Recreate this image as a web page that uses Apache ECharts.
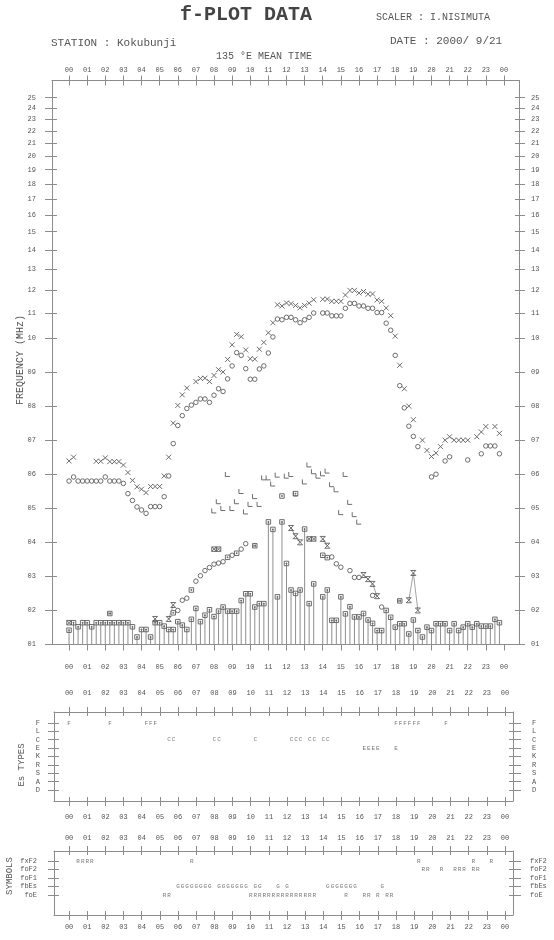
<!DOCTYPE html>
<html>
<head>
<meta charset="utf-8">
<script src="https://cdn.jsdelivr.net/npm/echarts@6/dist/echarts.min.js"></script>
<style>html,body{margin:0;padding:0;background:#fff}#c{width:554px;height:940px}</style>
</head>
<body>
<div id="c"></div>
<script>
// ---------------- DATA ----------------
const hourTicks = [0,1,2,3,4,5,6,7,8,9,10,11,12,13,14,15,16,17,18,19,20,21,22,23,24];
const hourLabels = ['00','01','02','03','04','05','06','07','08','09','10','11','12','13','14','15','16','17','18','19','20','21','22','23','00'];
const freqTicksLow = [1,2,3,4,5,6,7,8,9,10];
const freqLabelsLow = ['01','02','03','04','05','06','07','08','09','10'];
const freqTicksHigh = [11,12,13,14,15,16,17,18,19,20,21,22,23,24,25];
const freqLabelsHigh = ['11','12','13','14','15','16','17','18','19','20','21','22','23','24','25'];

// quarter-hourly values (index i -> time i/4 h), MHz
const fxF2 = [6.39,6.50,null,null,null,null,6.38,6.38,6.48,6.37,
  6.37,6.37,6.27,6.05,5.82,5.63,5.56,5.46,5.64,5.64,
  5.64,5.95,6.50,7.50,8.02,8.33,8.53,null,8.72,8.81,
  8.82,8.72,8.90,9.07,9.00,9.37,9.80,10.14,10.05,9.65,
  9.39,9.38,9.67,9.87,10.2,10.6,11.35,11.30,11.43,11.40,
  11.32,11.22,11.32,11.42,11.57,null,11.59,11.60,11.50,11.50,
  11.50,11.78,11.99,11.99,11.87,11.94,11.82,11.83,11.56,11.50,
  11.21,10.89,10.07,9.20,8.51,8.00,7.60,null,7.00,6.70,
  6.52,6.62,6.81,7.00,7.10,7.00,7.00,7.00,7.00,null,
  7.10,7.24,7.40,null,7.40,7.20];
const foF2 = [5.80,5.92,5.80,5.80,5.80,5.80,5.80,5.80,5.92,5.80,
  5.80,5.80,5.73,5.43,5.23,5.04,4.95,4.85,5.05,5.05,
  5.05,5.34,5.95,6.90,7.43,7.72,7.93,8.03,8.11,8.21,
  8.21,8.11,8.32,8.51,8.43,8.80,9.18,9.57,9.49,9.10,
  8.79,8.79,9.09,9.18,9.56,10.04,10.75,10.72,10.82,10.82,
  10.72,10.60,10.72,10.82,11.00,null,11.00,11.00,10.88,10.88,
  10.88,11.20,11.41,11.41,11.30,11.30,11.20,11.20,11.02,11.02,
  10.58,10.30,9.49,8.60,7.95,7.41,7.11,6.81,null,null,
  5.92,6.00,null,6.39,6.51,null,null,null,6.42,null,
  null,6.60,6.83,6.83,6.83,6.60];
const fmin = [1.42,1.64,1.52,1.64,1.64,1.52,1.64,1.64,1.64,1.64,
  1.64,1.64,1.64,1.64,1.52,1.22,1.44,1.44,1.22,1.64,
  1.64,1.54,1.44,1.44,1.67,1.57,1.44,1.74,2.06,1.67,
  1.86,2.02,1.82,1.98,2.10,1.98,1.98,1.98,2.29,2.49,
  2.49,2.10,2.20,2.20,4.60,4.38,2.40,4.60,3.38,2.60,
  2.50,2.60,4.39,2.20,2.78,null,2.40,2.60,1.71,1.71,
  2.40,1.90,2.11,1.81,1.81,1.91,1.72,1.62,1.41,1.41,
  2.00,1.80,1.51,1.61,1.61,1.31,1.72,1.41,1.22,1.51,
  1.41,1.61,1.61,1.61,1.41,1.61,1.41,1.51,1.61,1.51,
  1.61,1.54,1.54,1.54,1.74,1.64];
const foEs = [null,null,null,null,null,null,null,null,null,null,
  null,null,null,null,null,null,null,null,null,1.75,
  null,null,1.75,2.16,null,null,null,null,null,null,
  null,null,null,null,null,null,null,null,null,null,
  null,null,null,null,null,null,null,null,null,4.42,
  4.18,4.00,null,null,null,null,4.10,3.90,null,null,
  null,null,null,null,null,3.04,2.92,2.78,2.42,null,
  null,null,null,null,null,2.30,3.10,2.00,null,null,
  null,null,null,null,null,null,null,null,null,null,
  null,null,null,null,null,null];
const foF1Q = [32,33,34,35,36,37,38,39,40,41,42,43,44,45,46,48,49,50,52,53,54,55,56,57,58,59,60,61,62,63,64];
const foF1V = [4.93,5.2,5.0,6.0,5.0,5.2,5.5,4.9,5.12,5.35,5.12,5.9,5.9,5.72,5.98,5.95,6.0,5.43,5.78,6.28,6.08,5.95,6.02,6.1,5.7,5.55,4.88,6.0,5.18,4.82,4.6];
const foEQ = [24,25,26,28,29,30,31,32,33,34,36,38,39,58,59,60,62,63,64,67,69];
const foEV = [2.0,2.3,2.36,2.86,3.02,3.17,3.26,3.36,3.39,3.43,3.62,3.8,3.96,3.57,3.37,3.27,3.17,2.97,2.97,2.44,2.1];
const boxQ = [23,27,35,37,47,50,56,57];
const boxV = [1.93,2.6,3.56,3.68,5.36,5.43,3.62,3.55];
const xboxQ = [0,32,33,53,54];
const xboxV = [1.64,3.8,3.8,4.1,4.1];
const hboxQ = [9,41,73];
const hboxV = [1.91,3.9,2.28];

// Es types panel
const esRows = ['F','L','C','E','K','R','S','A','D'];
const esF = [0,9,17,18,19,72,73,74,75,76,77,83];
const esC = [22,23,32,33,41,49,50,51,53,54,56,57];
const esE = [65,66,67,68,72];
// Symbols panel
const symRows = ['fxF2','foF2','foF1','fbEs','foE'];
const symFxF2 = [2,3,4,5,27,77,89,93];
const symFoF2 = [78,79,82,85,86,87,89,90];
const symFbEs = [24,25,26,27,28,29,30,31,33,34,35,36,37,38,39,41,42,46,48,57,58,59,60,61,62,63,69];
const symFoE = [21,22,40,41,42,43,44,45,46,47,48,49,50,51,52,53,54,61,65,66,68,70,71];

// ---------------- STYLE ----------------
const FONT = '"Liberation Mono","DejaVu Sans Mono",monospace';
const C_TEXT = '#555';
const C_LINE = '#8c8c8c';
const C_SYM = '#5e5e5e';
const XMIN = -0.94, XMAX = 24.83;      // main plot
const XMIN2 = -0.83, XMAX2 = 24.44;    // lower panels

const P_X = 'path://M0,0L10,10M10,0L0,10';
const P_L = 'path://M0,0L0,10L10,10';
const P_BOX = 'path://M0,0L10,0L10,10L0,10Z M4,4L6,4L6,6L4,6Z';
const P_XBOX = 'path://M0,0L10,0L10,10L0,10Z M0,0L10,10 M10,0L0,10';
const P_HBOX = 'path://M0,0L10,0L10,10L0,10Z M3,2L3,8 M7,2L7,8 M3,5L7,5';
const P_GLASS = 'path://M0,0L10,0L0,10L10,10Z';

const hourFmt = v => hourLabels[hourTicks.indexOf(Math.round(v))];

function xAx(grid, pos, o) {
  return {
    type: 'value', gridIndex: grid, position: pos,
    min: o.min, max: o.max,
    axisLine: { show: !!o.line, onZero: false, lineStyle: { color: C_LINE, width: 1 } },
    axisTick: { show: true, inside: !!o.inside, length: o.len, customValues: hourTicks, lineStyle: { color: C_LINE, width: 1 } },
    axisLabel: { show: !!o.label, customValues: hourTicks, formatter: hourFmt, margin: o.margin || 8,
      fontSize: 7, fontFamily: FONT, color: C_TEXT },
    splitLine: { show: false }
  };
}
function yAx(grid, pos, o) {
  return {
    type: o.type || 'value', gridIndex: grid, position: pos,
    min: o.min, max: o.max, inverse: !!o.inverse, logBase: 10,
    axisLine: { show: !!o.line, onZero: false, lineStyle: { color: C_LINE, width: 1 } },
    axisTick: { show: true, inside: !!o.inside, length: o.len, customValues: o.ticks, lineStyle: { color: C_LINE, width: 1 } },
    axisLabel: { show: !!o.label, customValues: o.ticks, formatter: o.fmt, margin: o.margin || 8,
      fontSize: o.fs || 7, fontFamily: FONT, color: C_TEXT },
    splitLine: { show: false }
  };
}

const fmtHigh = v => freqLabelsHigh[freqTicksHigh.indexOf(Math.round(v))];
const fmtLow = v => freqLabelsLow[freqTicksLow.indexOf(Math.round(v))];
const esIdx = [0,1,2,3,4,5,6,7,8];
const symIdx = [0,1,2,3,4];
const fmtEs = v => esRows[Math.round(v)];
const fmtSym = v => symRows[Math.round(v)];

// ---------------- helpers to build series data ----------------
const arrPts = (arr, test) => arr.map((v, i) => (v != null && test(v)) ? [i / 4, v] : null).filter(Boolean);
const qPts = (Q, V) => Q.map((q, k) => [q / 4, V[k]]);
const letterPts = (Q, row, letter) => Q.map(q => ({ name: letter, value: [q / 4, row] }));

function scat(name, data, symbol, size, xi, yi) {
  return {
    name, type: 'scatter', xAxisIndex: xi, yAxisIndex: yi, data, symbol, symbolSize: size,
    clip: false, silent: true,
    itemStyle: { color: 'rgba(0,0,0,0)', borderColor: C_SYM, borderWidth: 0.9, opacity: 1 }
  };
}
function letters(name, data, xi, yi) {
  return {
    name, type: 'scatter', xAxisIndex: xi, yAxisIndex: yi, data, symbol: 'rect', symbolSize: 1,
    silent: true, itemStyle: { color: 'rgba(0,0,0,0)' },
    label: { show: true, position: 'inside', formatter: '{b}', fontSize: 6, fontFamily: FONT, color: C_TEXT }
  };
}

const ES_MIN = -1.31, ES_MAX = 9.31;
const SYM_MIN = -1.18, SYM_MAX = 6.35;

// ---------------- OPTION ----------------
const option = {
  animation: false,
  backgroundColor: '#fff',
  grid: [
    { left: 52, right: 35, top: 80.5, height: 257.5 },   // 0: 10-26.7 MHz (log)
    { left: 52, right: 35, top: 338, height: 306.5 },    // 1: 1-10 MHz
    { left: 54, right: 41, top: 712, height: 89 },       // 2: Es types
    { left: 54, right: 41, top: 851, height: 64 }        // 3: symbols
  ],
  xAxis: [
    xAx(0, 'top', { min: XMIN, max: XMAX, line: true, len: 5, label: true, margin: 7 }),
    xAx(0, 'top', { min: XMIN, max: XMAX, inside: true, len: 5 }),
    xAx(1, 'bottom', { min: XMIN, max: XMAX, line: true, len: 6, label: true, margin: 19 }),
    xAx(2, 'top', { min: XMIN2, max: XMAX2, line: true, len: 5, label: true, margin: 15 }),
    xAx(2, 'top', { min: XMIN2, max: XMAX2, inside: true, len: 4 }),
    xAx(2, 'bottom', { min: XMIN2, max: XMAX2, line: true, len: 5, label: true, margin: 13 }),
    xAx(2, 'bottom', { min: XMIN2, max: XMAX2, inside: true, len: 4 }),
    xAx(3, 'top', { min: XMIN2, max: XMAX2, line: true, len: 5, label: true, margin: 9 }),
    xAx(3, 'top', { min: XMIN2, max: XMAX2, inside: true, len: 4 }),
    xAx(3, 'bottom', { min: XMIN2, max: XMAX2, line: true, len: 5, label: true, margin: 9 }),
    xAx(3, 'bottom', { min: XMIN2, max: XMAX2, inside: true, len: 4 })
  ],
  yAxis: [
    yAx(0, 'left', { type: 'log', min: 10, max: 26.7, line: true, len: 7, label: true, margin: 16, ticks: freqTicksHigh, fmt: fmtHigh }),
    yAx(0, 'left', { type: 'log', min: 10, max: 26.7, inside: true, len: 5, ticks: freqTicksHigh }),
    yAx(0, 'right', { type: 'log', min: 10, max: 26.7, line: true, len: 6, label: true, margin: 12, ticks: freqTicksHigh, fmt: fmtHigh }),
    yAx(0, 'right', { type: 'log', min: 10, max: 26.7, inside: true, len: 4, ticks: freqTicksHigh }),
    yAx(1, 'left', { min: 1, max: 10, line: true, len: 7, label: true, margin: 16, ticks: freqTicksLow, fmt: fmtLow }),
    yAx(1, 'left', { min: 1, max: 10, inside: true, len: 5, ticks: freqTicksLow }),
    yAx(1, 'right', { min: 1, max: 10, line: true, len: 6, label: true, margin: 12, ticks: freqTicksLow, fmt: fmtLow }),
    yAx(1, 'right', { min: 1, max: 10, inside: true, len: 4, ticks: freqTicksLow }),
    yAx(2, 'left', { min: ES_MIN, max: ES_MAX, inverse: true, line: true, len: 6, label: true, margin: 14, ticks: esIdx, fmt: fmtEs }),
    yAx(2, 'left', { min: ES_MIN, max: ES_MAX, inverse: true, inside: true, len: 5, ticks: esIdx }),
    yAx(2, 'right', { min: ES_MIN, max: ES_MAX, inverse: true, line: true, len: 8, label: true, margin: 19, ticks: esIdx, fmt: fmtEs }),
    yAx(2, 'right', { min: ES_MIN, max: ES_MAX, inverse: true, inside: true, len: 4, ticks: esIdx }),
    yAx(3, 'left', { min: SYM_MIN, max: SYM_MAX, inverse: true, line: true, len: 6, label: true, margin: 17, ticks: symIdx, fmt: fmtSym }),
    yAx(3, 'left', { min: SYM_MIN, max: SYM_MAX, inverse: true, inside: true, len: 5, ticks: symIdx }),
    yAx(3, 'right', { min: SYM_MIN, max: SYM_MAX, inverse: true, line: true, len: 8, label: true, margin: 17, ticks: symIdx, fmt: fmtSym }),
    yAx(3, 'right', { min: SYM_MIN, max: SYM_MAX, inverse: true, inside: true, len: 4, ticks: symIdx })
  ],
  series: [
    // upper (log) part
    scat('fxF2 high', arrPts(fxF2, v => v > 10), P_X, 5, 0, 0),
    scat('foF2 high', arrPts(foF2, v => v > 10), 'circle', 4.5, 0, 0),
    // lower (linear) part
    {
      name: 'fmin line', type: 'bar', xAxisIndex: 2, yAxisIndex: 4, barWidth: 1, silent: true,
      data: arrPts(fmin, v => true), itemStyle: { color: '#8f8f8f' }
    },
    scat('fmin', arrPts(fmin, v => true), P_BOX, 4.5, 2, 4),
    scat('fxF2 low', arrPts(fxF2, v => v <= 10), P_X, 5, 2, 4),
    scat('foF2 low', arrPts(foF2, v => v <= 10), 'circle', 4.5, 2, 4),
    scat('foF1', qPts(foF1Q, foF1V), P_L, 4.5, 2, 4),
    scat('foE', qPts(foEQ, foEV), 'circle', 4.5, 2, 4),
    scat('box', qPts(boxQ, boxV), P_BOX, 4.5, 2, 4),
    scat('xbox', qPts(xboxQ, xboxV), P_XBOX, 4.5, 2, 4),
    scat('hbox', qPts(hboxQ, hboxV), P_HBOX, 4.5, 2, 4),
    {
      name: 'foEs', type: 'line', xAxisIndex: 2, yAxisIndex: 4, silent: true,
      data: foEs.map((v, i) => [i / 4, v]), connectNulls: false,
      symbol: P_GLASS, symbolSize: 5, showSymbol: true,
      itemStyle: { color: 'rgba(0,0,0,0)', borderColor: C_SYM, borderWidth: 0.9 },
      lineStyle: { color: C_LINE, width: 0.8 }
    },
    // Es types
    letters('Es F', letterPts(esF, 0, 'F'), 3, 8),
    letters('Es C', letterPts(esC, 2, 'C'), 3, 8),
    letters('Es E', letterPts(esE, 3, 'E'), 3, 8),
    // Symbols
    letters('sym fxF2', letterPts(symFxF2, 0, 'R'), 7, 12),
    letters('sym foF2', letterPts(symFoF2, 1, 'R'), 7, 12),
    letters('sym fbEs', letterPts(symFbEs, 3, 'G'), 7, 12),
    letters('sym foE', letterPts(symFoE, 4, 'R'), 7, 12)
  ],
  graphic: [
    { type: 'text', x: 246, y: 15, silent: true,
      style: { text: 'f-PLOT DATA', font: 'bold 20px ' + FONT, fill: '#444', textAlign: 'center', textVerticalAlign: 'middle' } },
    { type: 'text', x: 376, y: 17, silent: true,
      style: { text: 'SCALER : I.NISIMUTA', font: '10px ' + FONT, fill: C_TEXT, textAlign: 'left', textVerticalAlign: 'middle' } },
    { type: 'text', x: 51, y: 43, silent: true,
      style: { text: 'STATION : Kokubunji', font: '11px ' + FONT, fill: C_TEXT, textAlign: 'left', textVerticalAlign: 'middle' } },
    { type: 'text', x: 390, y: 41, silent: true,
      style: { text: 'DATE : 2000/ 9/21', font: '11px ' + FONT, fill: C_TEXT, textAlign: 'left', textVerticalAlign: 'middle' } },
    { type: 'text', x: 264, y: 56, silent: true,
      style: { text: '135 \u00B0E MEAN TIME', font: '10px ' + FONT, fill: C_TEXT, textAlign: 'center', textVerticalAlign: 'middle' } },
    { type: 'text', x: 20, y: 360, rotation: Math.PI / 2, silent: true,
      style: { text: 'FREQUENCY (MHz)', font: '10px ' + FONT, fill: C_TEXT, textAlign: 'center', textVerticalAlign: 'middle' } },
    { type: 'text', x: 22, y: 765, rotation: Math.PI / 2, silent: true,
      style: { text: 'Es TYPES', font: '9px ' + FONT, fill: C_TEXT, textAlign: 'center', textVerticalAlign: 'middle' } },
    { type: 'text', x: 10, y: 876, rotation: Math.PI / 2, silent: true,
      style: { text: 'SYMBOLS', font: '9px ' + FONT, fill: C_TEXT, textAlign: 'center', textVerticalAlign: 'middle' } }
  ]
};

const chart = echarts.init(document.getElementById('c'), null, { renderer: 'canvas', width: 554, height: 940 });
chart.setOption(option);
</script>
</body>
</html>
